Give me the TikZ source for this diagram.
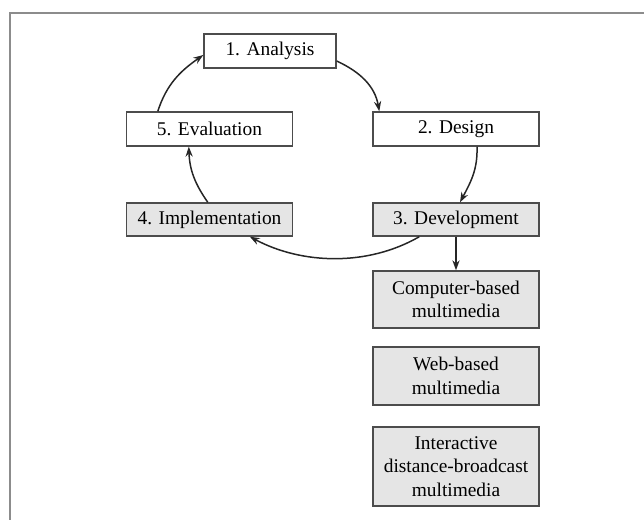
\documentclass[tikz,border=0pt]{standalone}
\usepackage{fontspec}
\setmainfont{Liberation Serif}
\usetikzlibrary{arrows.meta}
\begin{document}
\begin{tikzpicture}[x=0.5pt,y=-0.5pt,
  stage/.style={draw=black!70,line width=0.7pt,inner sep=0pt,align=center,
    font=\fontsize{9.7}{11.7}\selectfont},
  plain/.style={stage,fill=white},
  shaded/.style={stage,fill=black!10},
  arr/.style={line width=0.75pt,draw=black!85,-{Stealth[length=5pt,width=3.6pt]}},
  frame/.style={draw=black!45,line width=1.1pt}]
\useasboundingbox (0,0) rectangle (644,520);
% outer frame
\draw[frame] (10,522) -- (10,13) -- (646,13);
% cycle stages
\node[plain,minimum width=66pt,minimum height=17pt] (an) at (270,51) {1. Analysis};
\node[plain,minimum width=83pt,minimum height=17pt] (ev) at (209.5,129) {5. Evaluation};
\node[plain,minimum width=83pt,minimum height=17pt] (de) at (456,129) {2. Design};
\node[shaded,minimum width=83pt,minimum height=16.5pt] (im) at (209.5,219.5) {4. Implementation};
\node[shaded,minimum width=83pt,minimum height=16.5pt] (dv) at (456,219.5) {3. Development};
% development outputs
\node[shaded,minimum width=83pt,minimum height=28.5pt] (cb) at (456,299.5) {Computer-based\\multimedia};
\node[shaded,minimum width=83pt,minimum height=29pt] (wb) at (456,376) {Web-based\\multimedia};
\node[shaded,minimum width=83pt,minimum height=39.5pt] (ib) at (456,466.5) {Interactive\\distance-broadcast\\multimedia};
% cycle arrows
\draw[arr] ([xshift=16pt]ev.north west) to[out=72,in=215] ([yshift=-2pt]an.west);
\draw[arr] ([yshift=-5pt]an.east) to[out=-25,in=100] ([xshift=3.5pt]de.north west);
\draw[arr] ([xshift=10.5pt]de.south) to[out=-88,in=62] ([xshift=2pt]dv.north);
\draw[arr] ([xshift=23.5pt]dv.south west) to[out=-150,in=-28,looseness=0.9] ([xshift=62pt]im.south west);
\draw[arr] ([xshift=41pt]im.north west) to[out=125,in=-88] ([xshift=31.5pt]ev.south west);
\draw[arr] (dv) -- (cb);
\end{tikzpicture}
\end{document}
